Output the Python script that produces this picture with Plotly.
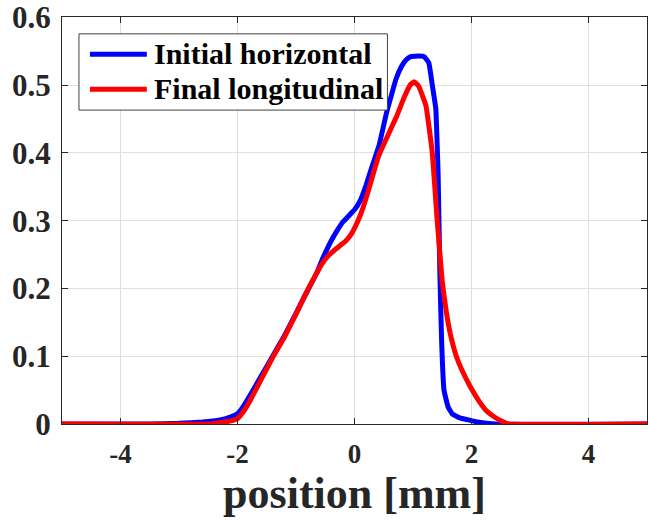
import plotly.graph_objects as go

# Initial horizontal (blue)
x_init = [-5.0, -3.5, -3.0, -2.6, -2.3, -2.1, -2.0, -1.9, -1.8, -1.6, -1.4, -1.2, -1.0,
          -0.88, -0.65, -0.55, -0.4, -0.3, -0.2, -0.1, 0.0, 0.1, 0.2, 0.3, 0.42, 0.55,
          0.71, 0.8, 0.88, 0.96, 1.1, 1.19, 1.27, 1.33, 1.39, 1.41, 1.43, 1.46, 1.49,
          1.53, 1.6, 1.67, 1.8, 1.95, 2.1, 2.4, 5.0]
y_init = [0.0, 0.0, 0.001, 0.003, 0.006, 0.011, 0.015, 0.026, 0.04, 0.07, 0.1, 0.13, 0.163,
          0.184, 0.222, 0.243, 0.27, 0.285, 0.298, 0.307, 0.316, 0.33, 0.353, 0.38, 0.411, 0.46,
          0.509, 0.527, 0.537, 0.542, 0.543, 0.542, 0.533, 0.5, 0.465, 0.42, 0.367, 0.22, 0.12,
          0.05, 0.025, 0.015, 0.009, 0.006, 0.003, 0.0, 0.0]

# Final longitudinal (red)
x_final = [-5.0, -2.5, -2.3, -2.15, -2.0, -1.9, -1.8, -1.6, -1.4, -1.2, -1.0, -0.8, -0.65,
           -0.55, -0.45, -0.35, -0.25, -0.15, -0.05, 0.05, 0.15, 0.25, 0.35, 0.42, 0.55, 0.71,
           0.85, 0.95, 1.02, 1.1, 1.22, 1.33, 1.41, 1.5, 1.57, 1.64, 1.74, 1.84, 1.98, 2.12,
           2.25, 2.4, 2.52, 2.63, 5.0]
y_final = [0.0, 0.0, 0.002, 0.004, 0.008, 0.018, 0.032, 0.065, 0.098, 0.128, 0.162, 0.198, 0.222,
           0.237, 0.248, 0.256, 0.263, 0.27, 0.281, 0.298, 0.32, 0.348, 0.378, 0.397, 0.422, 0.452,
           0.482, 0.5, 0.505, 0.498, 0.47, 0.40, 0.304, 0.21, 0.165, 0.132, 0.1, 0.079, 0.055,
           0.035, 0.02, 0.01, 0.004, 0.0, 0.0]

series_names = ["Initial horizontal", "Final longitudinal"]
series_colors = ["#0000FF", "#FF0000"]

x_ticks = [-4, -2, 0, 2, 4]
y_ticks = [0, 0.1, 0.2, 0.3, 0.4, 0.5, 0.6]
y_tick_labels = ["0", "0.1", "0.2", "0.3", "0.4", "0.5", "0.6"]

FONT = "Liberation Serif"
AX = "#262626"

fig = go.Figure()
for xs, ys, name, col in zip([x_init, x_final], [y_init, y_final], series_names, series_colors):
    fig.add_trace(go.Scatter(x=xs, y=ys, mode="lines", name=name, showlegend=False,
                             line=dict(color=col, width=5, shape="spline", smoothing=0.3)))

# Legend drawn as a boxed key (MATLAB style)
box_x0, box_x1, box_y0, box_y1 = 0.029, 0.5563, 0.7713, 0.9586
row_y = [0.9083, 0.8224]
line_x0, line_x1, text_x = 0.0478, 0.145, 0.1536
fig.add_shape(type="rect", xref="paper", yref="paper", x0=box_x0, x1=box_x1, y0=box_y0, y1=box_y1,
              line=dict(color="#404040", width=1), fillcolor="white", layer="above")
for name, col, ry in zip(series_names, series_colors, row_y):
    fig.add_shape(type="line", xref="paper", yref="paper", x0=line_x0, x1=line_x1, y0=ry, y1=ry,
                  line=dict(color=col, width=5), layer="above")
    fig.add_annotation(xref="paper", yref="paper", x=text_x, y=ry, xanchor="left", yanchor="middle",
                       text=f"<b>{name}</b>", showarrow=False, yshift=1,
                       font=dict(family=FONT, size=30, color="black"))

fig.update_layout(
    width=648, height=522,
    margin=dict(l=62, r=0, t=13, b=98),
    paper_bgcolor="white", plot_bgcolor="white",
    font=dict(family=FONT, color=AX),
    showlegend=False,
    xaxis=dict(range=[-5, 5], tickvals=x_ticks, ticktext=[f"<b>{v}</b>" for v in x_ticks],
               showgrid=True, gridcolor="#dfdfdf", gridwidth=1, zeroline=False,
               showline=True, linecolor=AX, linewidth=1.3, mirror="ticks",
               ticks="inside", ticklen=6, tickcolor=AX, tickwidth=1.3,
               tickfont=dict(family=FONT, size=27, color=AX), ticklabelstandoff=5,
               title=dict(text="<b>position [mm]</b>", font=dict(family=FONT, size=44, color=AX),
                          standoff=4)),
    yaxis=dict(range=[0, 0.6005], tickvals=y_ticks, ticktext=[f"<b>{t}</b>" for t in y_tick_labels],
               showgrid=True, gridcolor="#dfdfdf", gridwidth=1, zeroline=False,
               showline=True, linecolor=AX, linewidth=1.3, mirror="ticks",
               ticks="inside", ticklen=6, tickcolor=AX, tickwidth=1.3,
               tickfont=dict(family=FONT, size=31, color=AX), ticklabelstandoff=4,
               ticklabeloverflow="allow"),
)

fig.write_html("out.html")
